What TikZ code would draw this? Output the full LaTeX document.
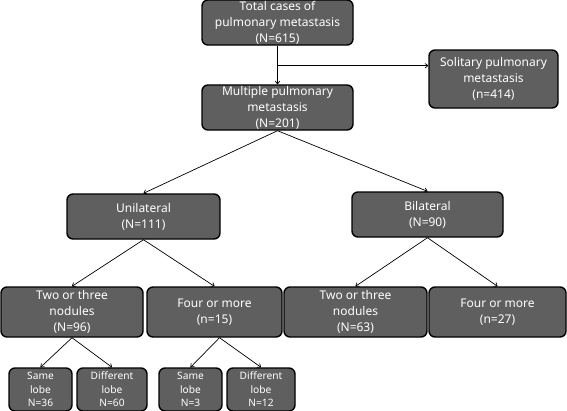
\documentclass[tikz,border=0pt]{standalone}
\usepackage{fontspec}
\setmainfont{Noto Sans}
\usepackage{tikz}
\usetikzlibrary{positioning,arrows.meta}
\usepackage{xcolor}
\definecolor{boxgray}{HTML}{5F5F5F}

\tikzset{
  box/.style={draw=black, line width=1.4pt, fill=boxgray, rounded corners=6pt,
    text=white, align=center, inner sep=1pt,
    font=\fontsize{12}{16}\selectfont},
  smallbox/.style={box, font=\fontsize{10.2}{13.5}\selectfont},
  link/.style={line width=0.7pt, -{To[length=3.5pt,width=5pt]}}
}

\begin{document}
\begin{tikzpicture}[x=1pt,y=-1pt]
                \useasboundingbox (0,0) rectangle (567,410);
                \clip (0,0) rectangle (567,410);
                % top part
                \node[box, minimum width=151pt, minimum height=45pt] (total) at (277.5,22.5) {Total cases of\\pulmonary metastasis\\(N=615)};
                \node[box, minimum width=151pt, minimum height=45pt] (multi) at (277.5,107.5) {Multiple pulmonary\\metastasis\\(N=201)};
                \node[box, minimum width=129pt, minimum height=58pt] (soli) at (493.5,79) {Solitary pulmonary\\metastasis\\(n=414)};
                % side
                \node[box, minimum width=153pt, minimum height=45pt] (uni) at (143.5,216.5) {Unilateral\\(N=111)};
                \node[box, minimum width=151pt, minimum height=45pt] (bil) at (427.5,214.5) {Bilateral\\(N=90)};
                % number of nodules
                \node[box, minimum width=142pt, minimum height=50pt] (twoU) at (72,312) {Two or three\\nodules\\(N=96)};
                \node[box, minimum width=135pt, minimum height=50pt] (fourU) at (214.5,312) {Four or more\\(n=15)};
                \node[box, minimum width=143pt, minimum height=50pt] (twoB) at (355.5,312) {Two or three\\nodules\\(N=63)};
                \node[box, minimum width=137pt, minimum height=50pt] (fourB) at (497.5,312) {Four or more\\(n=27)};
                % lobes
                \node[smallbox, minimum width=63pt, minimum height=43pt] (sameA) at (40.5,389.5) {Same\\lobe\\N=36};
                \node[smallbox, minimum width=70pt, minimum height=43pt] (diffA) at (112,389.5) {Different\\lobe\\N=60};
                \node[smallbox, minimum width=63pt, minimum height=43pt] (sameB) at (190.5,389.5) {Same\\lobe\\N=3};
                \node[smallbox, minimum width=68pt, minimum height=43pt] (diffB) at (261,389.5) {Different\\lobe\\N=12};

                \coordinate (split) at (277.5,65.7);
                \draw[link] (total) -- (multi);
                \draw[link] (split) -- (split -| soli.west);
                \draw[link] (multi.south) -- (uni.north);
                \draw[link] (multi.south) -- (bil.north);
                \draw[link] (uni.south) -- (twoU.north);
                \draw[link] (uni.south) -- (fourU.north);
                \draw[link] (bil.south) -- (twoB.north);
                \draw[link] (bil.south) -- (fourB.north);
                \draw[link] (twoU.south) -- (sameA.north);
                \draw[link] (twoU.south) -- (diffA.north);
                \draw[link] ([xshift=5pt]fourU.south) -- (sameB.north);
                \draw[link] ([xshift=5pt]fourU.south) -- (diffB.north);
            \end{tikzpicture}
\end{document}
